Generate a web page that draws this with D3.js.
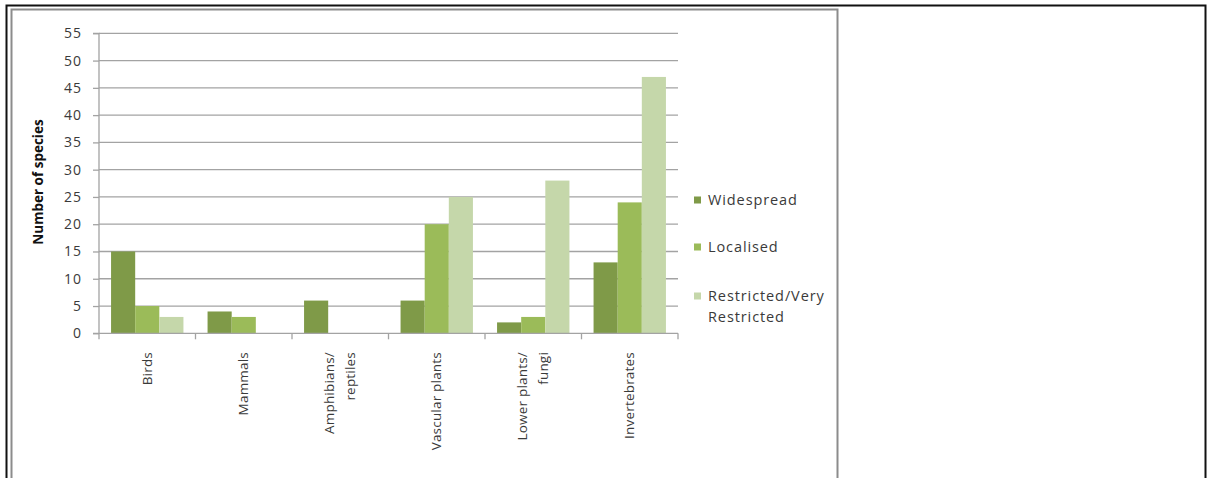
<!DOCTYPE html>
<html><head><meta charset="utf-8">
<script src="https://cdn.jsdelivr.net/npm/d3@7"></script>
<style>html,body{margin:0;padding:0;background:#fff;}svg{display:block;}</style>
</head><body>
<svg id="c" width="1207" height="478"></svg>
<script>
const categories = [["Birds"],["Mammals"],["Amphibians/","reptiles"],["Vascular plants"],["Lower plants/","fungi"],["Invertebrates"]];
const seriesNames = ["Widespread","Localised","Restricted/Very Restricted"];
const widespread = [15,4,6,6,2,13];
const localised = [5,3,0,20,3,24];
const restricted = [3,0,0,25,28,47];
const yTicks = [0,5,10,15,20,25,30,35,40,45,50,55];
const colors = ["#7f9a48","#9bbb59","#c5d7aa"];
const series = [widespread, localised, restricted];

const svg = d3.select("#c");
const FONT = "'Open Sans', sans-serif";
const TXT = "#3a3a3a";

// frames
svg.append("rect").attr("x",6.5).attr("y",5.5).attr("width",1199).attr("height",480).attr("fill","none").attr("stroke","#111").attr("stroke-width",2);
svg.append("path").attr("d","M11.5,490 V9.5 H837.5 V490").attr("fill","none").attr("stroke","#8c8c8c").attr("stroke-width",2);

const x0 = d3.scaleBand().domain(d3.range(categories.length)).range([99,678]).padding(0);
const x1 = d3.scaleBand().domain(d3.range(series.length)).range([x0.bandwidth()*0.125, x0.bandwidth()*0.875]).padding(0);
const y = d3.scaleLinear().domain([0,55]).range([333.3,33.3]);

// gridlines
svg.append("g").selectAll("line").data(yTicks.filter(d=>d>0)).join("line")
  .attr("x1",99).attr("x2",678).attr("y1",d=>y(d)).attr("y2",d=>y(d))
  .attr("stroke","#a3a3a3").attr("stroke-width",1.3);

// bars
series.forEach((s,si)=>{
  svg.append("g").selectAll("rect").data(s).join("rect")
    .attr("x",(d,i)=>x0(i)+x1(si)).attr("width",x1.bandwidth())
    .attr("y",d=>y(d)).attr("height",d=>y(0)-y(d)).attr("fill",colors[si]);
});

// y axis
const yAxis = d3.axisLeft(y).tickValues(yTicks).tickSize(6).tickPadding(11);
const gy = svg.append("g").attr("transform","translate(99,0)").call(yAxis);
gy.select(".domain").attr("stroke","#a3a3a3").attr("stroke-width",1.3).attr("d","M-6,33.3H0V333.3H-6");
gy.selectAll(".tick line").attr("stroke","#a3a3a3").attr("stroke-width",1.3);
gy.selectAll(".tick text").attr("font-family",FONT).attr("font-size",14).attr("fill",TXT).attr("letter-spacing","1px");

// x axis
const xt = d3.scaleLinear().domain([0,categories.length]).range([99,678]);
const gx = svg.append("g").attr("transform","translate(0,333.3)");
gx.append("line").attr("x1",99).attr("x2",678).attr("stroke","#a3a3a3").attr("stroke-width",1.3);
gx.selectAll("line.t").data(d3.range(categories.length+1)).join("line").attr("class","t")
  .attr("x1",d=>xt(d)).attr("x2",d=>xt(d)).attr("y1",0).attr("y2",6).attr("stroke","#a3a3a3").attr("stroke-width",1.3);

const lblG = svg.append("g");
categories.forEach((lines,i)=>{
  const cx = x0(i)+x0.bandwidth()/2;
  const n = lines.length;
  const lh = 21;
  const t = lblG.append("text").attr("transform",`translate(${cx},352) rotate(-90)`)
    .attr("text-anchor","end").attr("font-family",FONT).attr("font-size",13.5).attr("fill",TXT).attr("letter-spacing","0.2px");
  lines.forEach((l,j)=>{
    t.append("tspan").attr("x",0).attr("y", (j-(n-1)/2)*lh).attr("dy","0.35em").text(l);
  });
});

// y title
svg.append("text").attr("transform","translate(38,182) rotate(-90)").attr("text-anchor","middle")
  .attr("dy","0.35em").attr("font-family",FONT).attr("font-weight","bold").attr("font-size",13.5).attr("fill","#111").text("Number of species");

// legend
const legY = [200,247,296];
const legLines = [["Widespread"],["Localised"],["Restricted/Very","Restricted"]];
seriesNames.forEach((nm,i)=>{
  svg.append("rect").attr("x",694).attr("y",legY[i]-3.5).attr("width",7).attr("height",7).attr("fill",colors[i]);
  const t = svg.append("text").attr("font-family",FONT).attr("font-size",14.5).attr("fill",TXT).attr("letter-spacing","0.9px");
  legLines[i].forEach((l,j)=>{
    t.append("tspan").attr("x",708).attr("y",legY[i]+j*21).attr("dy","0.35em").text(l);
  });
});
</script>
</body></html>
